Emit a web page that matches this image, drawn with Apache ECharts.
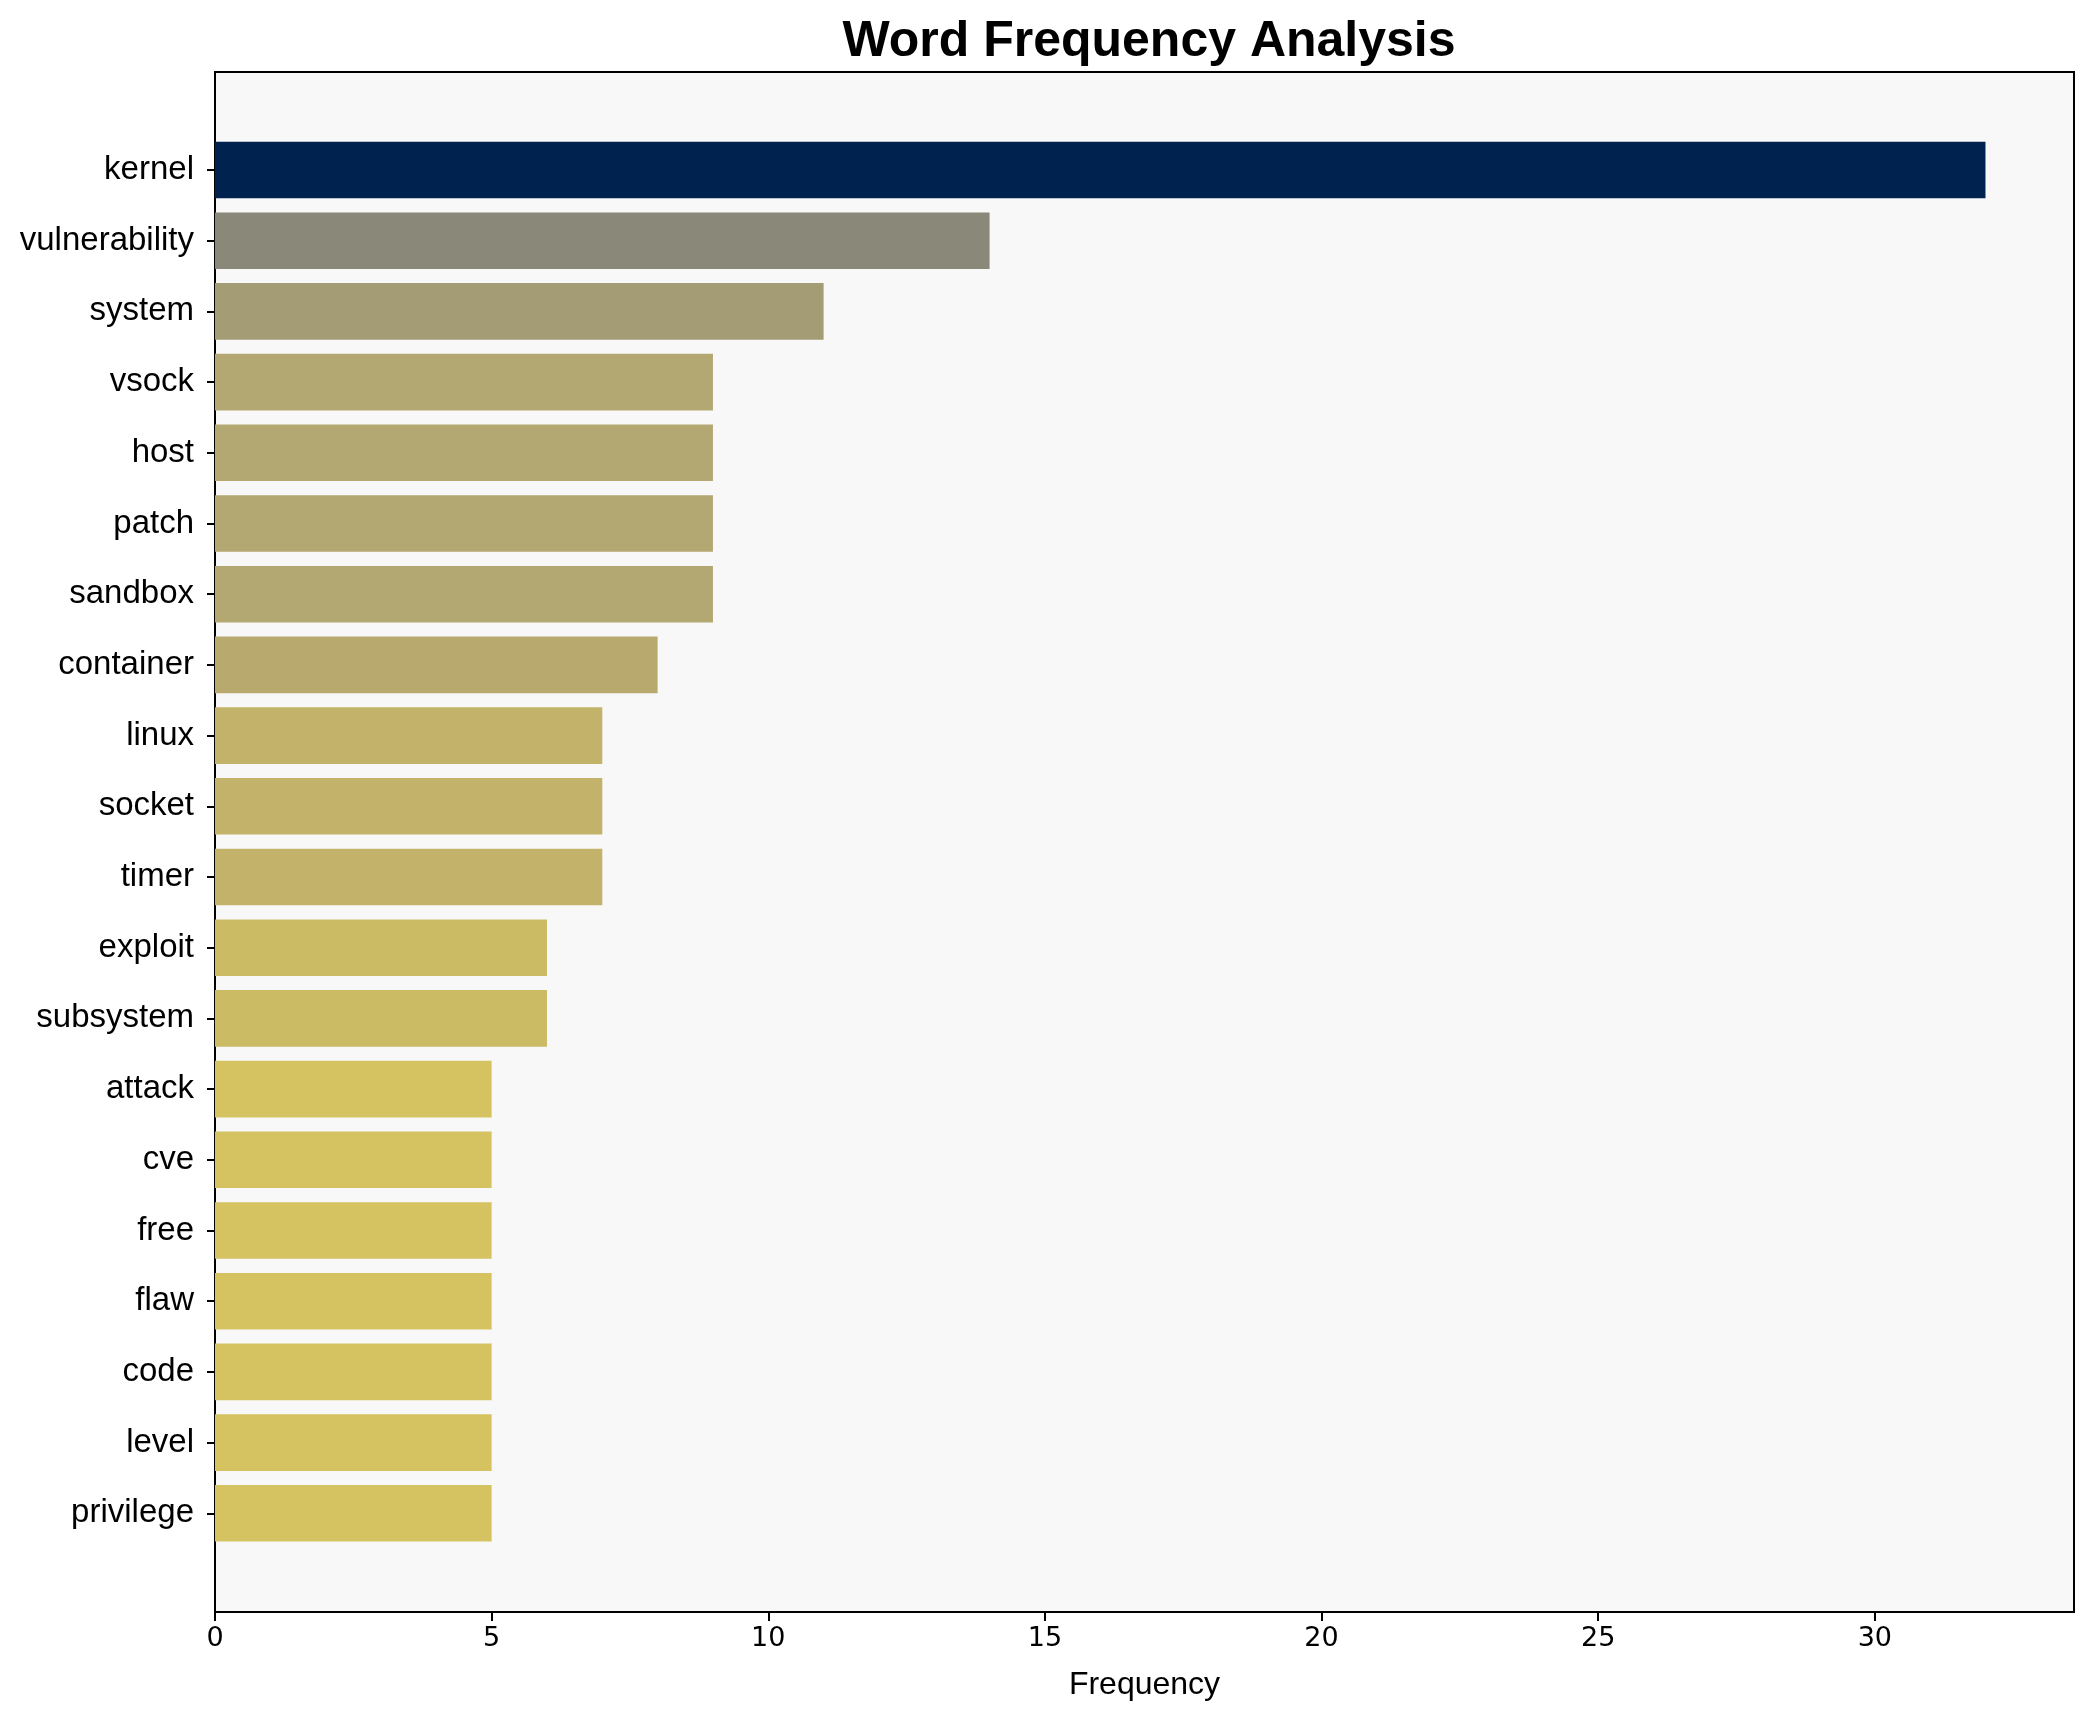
<!DOCTYPE html>
<html>
<head>
<meta charset="utf-8">
<script src="https://cdn.jsdelivr.net/npm/echarts@6/dist/echarts.min.js"></script>
<style>
  html, body { margin: 0; padding: 0; background: #ffffff; }
  #chart { width: 2095px; height: 1722px; }
</style>
</head>
<body>
<div id="chart"></div>
<script>
const words = ["kernel", "vulnerability", "system", "vsock", "host", "patch", "sandbox", "container", "linux", "socket", "timer", "exploit", "subsystem", "attack", "cve", "free", "flaw", "code", "level", "privilege"];
const freqs = [32, 14, 11, 9, 9, 9, 9, 8, 7, 7, 7, 6, 6, 5, 5, 5, 5, 5, 5, 5];
const barColors = ["#00224f", "#8a8878", "#a49c74", "#b3a772", "#b3a772", "#b3a772", "#b3a772", "#b8aa6f", "#c3b36a", "#c3b36a", "#c3b36a", "#cbbb65", "#cbbb65", "#d4c360", "#d4c360", "#d4c360", "#d4c360", "#d4c360", "#d4c360", "#d4c360"];
const xTicks = [0, 5, 10, 15, 20, 25, 30];
const xMax = 33.6;

const chart = echarts.init(document.getElementById('chart'), null, { renderer: 'canvas' });

const option = {
  backgroundColor: '#ffffff',
  animation: false,
  title: {
    text: 'Word Frequency Analysis',
    left: 1144,
    top: 12,
    textAlign: 'center',
    textStyle: { fontFamily: 'Liberation Sans, Arial, sans-serif', fontWeight: 'bold', fontSize: 50, color: '#000000' }
  },
  grid: [
    { left: 215, right: 21, top: 72, bottom: 110, show: true, backgroundColor: '#f8f8f8', borderColor: '#000000', borderWidth: 2, containLabel: false },
    { left: 215, right: 21, top: 134.65, bottom: 173.35, show: false, containLabel: false }
  ],
  xAxis: [
    {
      gridIndex: 0, type: 'value', min: 0, max: xMax,
      name: 'Frequency', nameLocation: 'middle', nameGap: 57,
      nameTextStyle: { fontFamily: 'Liberation Sans, Arial, sans-serif', fontSize: 32, color: '#000000' },
      axisLine: { show: true, lineStyle: { color: '#000000', width: 2 } },
      axisTick: { show: true, length: 9, lineStyle: { color: '#000000', width: 2 }, customValues: xTicks },
      axisLabel: { show: true, margin: 13, fontFamily: 'DejaVu Sans, sans-serif', fontSize: 27, color: '#000000', customValues: xTicks },
      splitLine: { show: false }
    },
    {
      gridIndex: 1, type: 'value', min: 0, max: xMax, show: false,
      splitLine: { show: false }
    }
  ],
  yAxis: [
    { gridIndex: 0, type: 'value', show: false, splitLine: { show: false } },
    {
      gridIndex: 1, type: 'category', data: words, inverse: true,
      axisLine: { show: false },
      axisTick: { show: true, alignWithLabel: true, length: 8, lineStyle: { color: '#000000', width: 2 } },
      axisLabel: { show: true, margin: 21, padding: [8, 0, 0, 0], fontFamily: 'Liberation Sans, Arial, sans-serif', fontSize: 33, color: '#000000' },
      splitLine: { show: false }
    }
  ],
  series: [
    {
      type: 'bar',
      xAxisIndex: 1,
      yAxisIndex: 1,
      barCategoryGap: '20%',
      data: freqs.map((v, i) => ({ value: v, itemStyle: { color: barColors[i] } }))
    }
  ]
};

chart.setOption(option);
</script>
</body>
</html>
